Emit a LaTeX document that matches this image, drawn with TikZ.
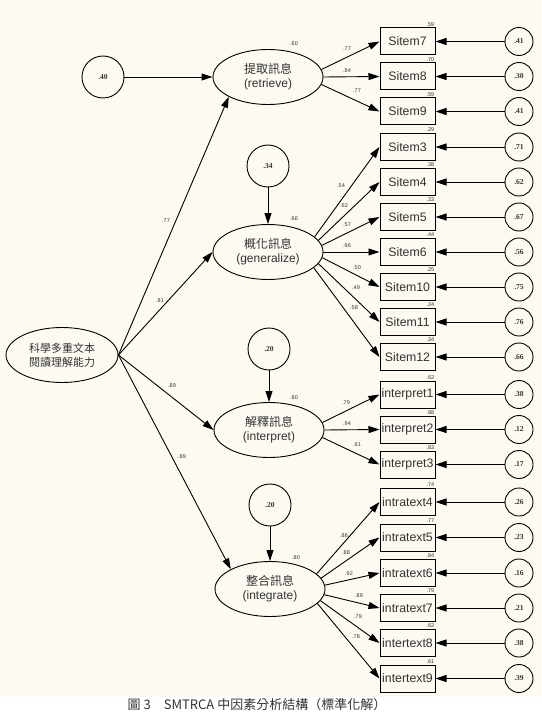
\documentclass[tikz,border=0pt]{standalone}
\usepackage{fontspec}
\setmainfont{Liberation Sans}
\newfontfamily\cjk{Noto Sans CJK TC}
\newfontfamily\numfont{Liberation Serif}
\usetikzlibrary{arrows.meta,shapes.geometric}
\definecolor{PaperCream}{HTML}{FCFAF1}
\definecolor{LabelGray}{HTML}{333333}

\begin{document}
\begin{tikzpicture}[x=1pt, y=-1pt,
  latent/.style={draw, ellipse, line width=0.9pt, minimum width=110pt,
                 minimum height=55pt, inner sep=0pt, align=center,
                 font=\fontsize{12}{14}\selectfont, text=LabelGray},
  item/.style={draw, rectangle, line width=1pt, minimum width=55pt,
               minimum height=27pt, inner sep=0pt,
               font=\fontsize{12.3}{14}\selectfont, text=LabelGray},
  err/.style={draw, circle, line width=0.9pt, minimum size=28pt, inner sep=0pt,
              font=\numfont\bfseries\fontsize{7.5}{8}\selectfont, text=LabelGray},
  dist/.style={err, minimum size=42pt},
  arrow/.style={-{Triangle[length=11pt, width=7pt]}, line width=0.9pt},
  load/.style={font=\fontsize{5.5}{6}\selectfont, text=LabelGray, inner sep=0pt},
  rsq/.style={load, anchor=south east, inner sep=1pt}
]
  \useasboundingbox (0,0) rectangle (541,714);
  \fill[PaperCream] (0,0) rectangle (541,697);

  % second-order factor
  \node[latent, minimum width=112pt, font=\cjk\fontsize{11}{14}\selectfont]
    (read) at (62,355) {科學多重文本\\閱讀理解能力};

  % retrieve
  \node[latent] (ret) at (268,77) {{\cjk 提取訊息}\\(retrieve)};
  \node[dist] (d1) at (103,77) {.40};
  \node[load] at (294,44) {.60};
  \draw[arrow] (d1) -- (ret);
  \draw[arrow] (read.east) -- (ret.south west);
  \node[load] at (166,221) {.77};

  \node[item] (s7) at (407.5,41.5) {Sitem7};
  \node[item] (s8) at (407.5,76.5) {Sitem8};
  \node[item] (s9) at (407.5,111.5) {Sitem9};
  \node[err] (e7) at (519,41.5) {.41};
  \node[err] (e8) at (519,76.5) {.30};
  \node[err] (e9) at (519,111.5) {.41};
  \draw[arrow] (ret.8) -- (s7.west);
  \draw[arrow] (ret.east) -- (s8.west);
  \draw[arrow] (ret.352) -- (s9.west);
  \draw[arrow] (e7) -- (s7);
  \draw[arrow] (e8) -- (s8);
  \draw[arrow] (e9) -- (s9);
  \node[load] at (347,49) {.77};
  \node[load] at (347,71) {.84};
  \node[load] at (357,91) {.77};
  \node[rsq] at (s7.north east) {.59};
  \node[rsq] at (s8.north east) {.70};
  \node[rsq] at (s9.north east) {.59};

  % generalize
  \node[latent] (gen) at (268,252) {{\cjk 概化訊息}\\(generalize)};
  \node[dist] (d2) at (268,166) {.34};
  \node[load] at (294,219) {.66};
  \draw[arrow] (d2) -- (gen);
  \draw[arrow] (read.east) -- (gen.west);
  \node[load] at (160,301) {.81};

  \node[item] (s3) at (407.5,147) {Sitem3};
  \node[item] (s4) at (407.5,182) {Sitem4};
  \node[item] (s5) at (407.5,217) {Sitem5};
  \node[item] (s6) at (407.5,252) {Sitem6};
  \node[item] (s10) at (407.5,287) {Sitem10};
  \node[item] (s11) at (407.5,322) {Sitem11};
  \node[item] (s12) at (407.5,357) {Sitem12};
  \node[err] (e3) at (519,147) {.71};
  \node[err] (e4) at (519,182) {.62};
  \node[err] (e5) at (519,217) {.67};
  \node[err] (e6) at (519,252) {.56};
  \node[err] (e10) at (519,287) {.75};
  \node[err] (e11) at (519,322) {.76};
  \node[err] (e12) at (519,357) {.66};
  \draw[arrow] (gen.18) -- (s3.west);
  \draw[arrow] (gen.13) -- (s4.west);
  \draw[arrow] (gen.7) -- (s5.west);
  \draw[arrow] (gen.east) -- (s6.west);
  \draw[arrow] (gen.354) -- (s10.west);
  \draw[arrow] (gen.347) -- (s11.west);
  \draw[arrow] (gen.341) -- (s12.west);
  \draw[arrow] (e3) -- (s3);
  \draw[arrow] (e4) -- (s4);
  \draw[arrow] (e5) -- (s5);
  \draw[arrow] (e6) -- (s6);
  \draw[arrow] (e10) -- (s10);
  \draw[arrow] (e11) -- (s11);
  \draw[arrow] (e12) -- (s12);
  \node[load] at (341,186) {.54};
  \node[load] at (344,206) {.62};
  \node[load] at (347,225) {.57};
  \node[load] at (347,246) {.66};
  \node[load] at (357,268) {.50};
  \node[load] at (356,288) {.49};
  \node[load] at (354,308) {.58};
  \node[rsq] at (s3.north east) {.29};
  \node[rsq] at (s4.north east) {.38};
  \node[rsq] at (s5.north east) {.33};
  \node[rsq] at (s6.north east) {.44};
  \node[rsq] at (s10.north east) {.25};
  \node[rsq] at (s11.north east) {.24};
  \node[rsq] at (s12.north east) {.34};

  % interpret
  \node[latent] (int) at (269,430) {{\cjk 解釋訊息}\\(interpret)};
  \node[dist] (d3) at (269,349) {.20};
  \node[load] at (294,398) {.80};
  \draw[arrow] (d3) -- (int);
  \draw[arrow] (read.east) -- (int.west);
  \node[load] at (172,386) {.89};

  \node[item] (p1) at (407.5,394.5) {interpret1};
  \node[item] (p2) at (407.5,429.5) {interpret2};
  \node[item] (p3) at (407.5,464.5) {interpret3};
  \node[err] (ep1) at (519,394.5) {.38};
  \node[err] (ep2) at (519,429.5) {.12};
  \node[err] (ep3) at (519,464.5) {.17};
  \draw[arrow] (int.8) -- (p1.west);
  \draw[arrow] (int.east) -- (p2.west);
  \draw[arrow] (int.352) -- (p3.west);
  \draw[arrow] (ep1) -- (p1);
  \draw[arrow] (ep2) -- (p2);
  \draw[arrow] (ep3) -- (p3);
  \node[load] at (346,403) {.79};
  \node[load] at (347,424) {.94};
  \node[load] at (357,445) {.91};
  \node[rsq] at (p1.north east) {.62};
  \node[rsq] at (p2.north east) {.88};
  \node[rsq] at (p3.north east) {.83};

  % integrate
  \node[latent] (itg) at (270,589) {{\cjk 整合訊息}\\(integrate)};
  \node[dist] (d4) at (270,505) {.20};
  \node[load] at (296,558) {.80};
  \draw[arrow] (d4) -- (itg);
  \draw[arrow] (read.east) -- (itg.north west);
  \node[load] at (182,457) {.89};

  \node[item] (t4) at (407.5,502) {intratext4};
  \node[item] (t5) at (407.5,537.5) {intratext5};
  \node[item] (t6) at (407.5,573) {intratext6};
  \node[item] (t7) at (407.5,608) {intratext7};
  \node[item] (t8) at (407.5,643) {intertext8};
  \node[item] (t9) at (407.5,678.5) {intertext9};
  \node[err] (et4) at (519,502) {.26};
  \node[err] (et5) at (519,537.5) {.23};
  \node[err] (et6) at (519,573) {.16};
  \node[err] (et7) at (519,608) {.21};
  \node[err] (et8) at (519,643) {.38};
  \node[err] (et9) at (519,678.5) {.39};
  \draw[arrow] (itg.18) -- (t4.west);
  \draw[arrow] (itg.12) -- (t5.west);
  \draw[arrow] (itg.4) -- (t6.west);
  \draw[arrow] (itg.354) -- (t7.west);
  \draw[arrow] (itg.347) -- (t8.west);
  \draw[arrow] (itg.343) -- (t9.west);
  \draw[arrow] (et4) -- (t4);
  \draw[arrow] (et5) -- (t5);
  \draw[arrow] (et6) -- (t6);
  \draw[arrow] (et7) -- (t7);
  \draw[arrow] (et8) -- (t8);
  \draw[arrow] (et9) -- (t9);
  \node[load] at (344,536) {.86};
  \node[load] at (346,553) {.88};
  \node[load] at (349,574) {.92};
  \node[load] at (359,596) {.89};
  \node[load] at (358,617) {.79};
  \node[load] at (356,637) {.78};
  \node[rsq] at (t4.north east) {.74};
  \node[rsq] at (t5.north east) {.77};
  \node[rsq] at (t6.north east) {.84};
  \node[rsq] at (t7.north east) {.79};
  \node[rsq] at (t8.north east) {.62};
  \node[rsq] at (t9.north east) {.61};

  % caption
  \node[font=\cjk\fontsize{13}{15}\selectfont, text=LabelGray] (cap) at (257,705)
    {圖 3　SMTRCA 中因素分析結構（標準化解）};
\end{tikzpicture}
\end{document}
